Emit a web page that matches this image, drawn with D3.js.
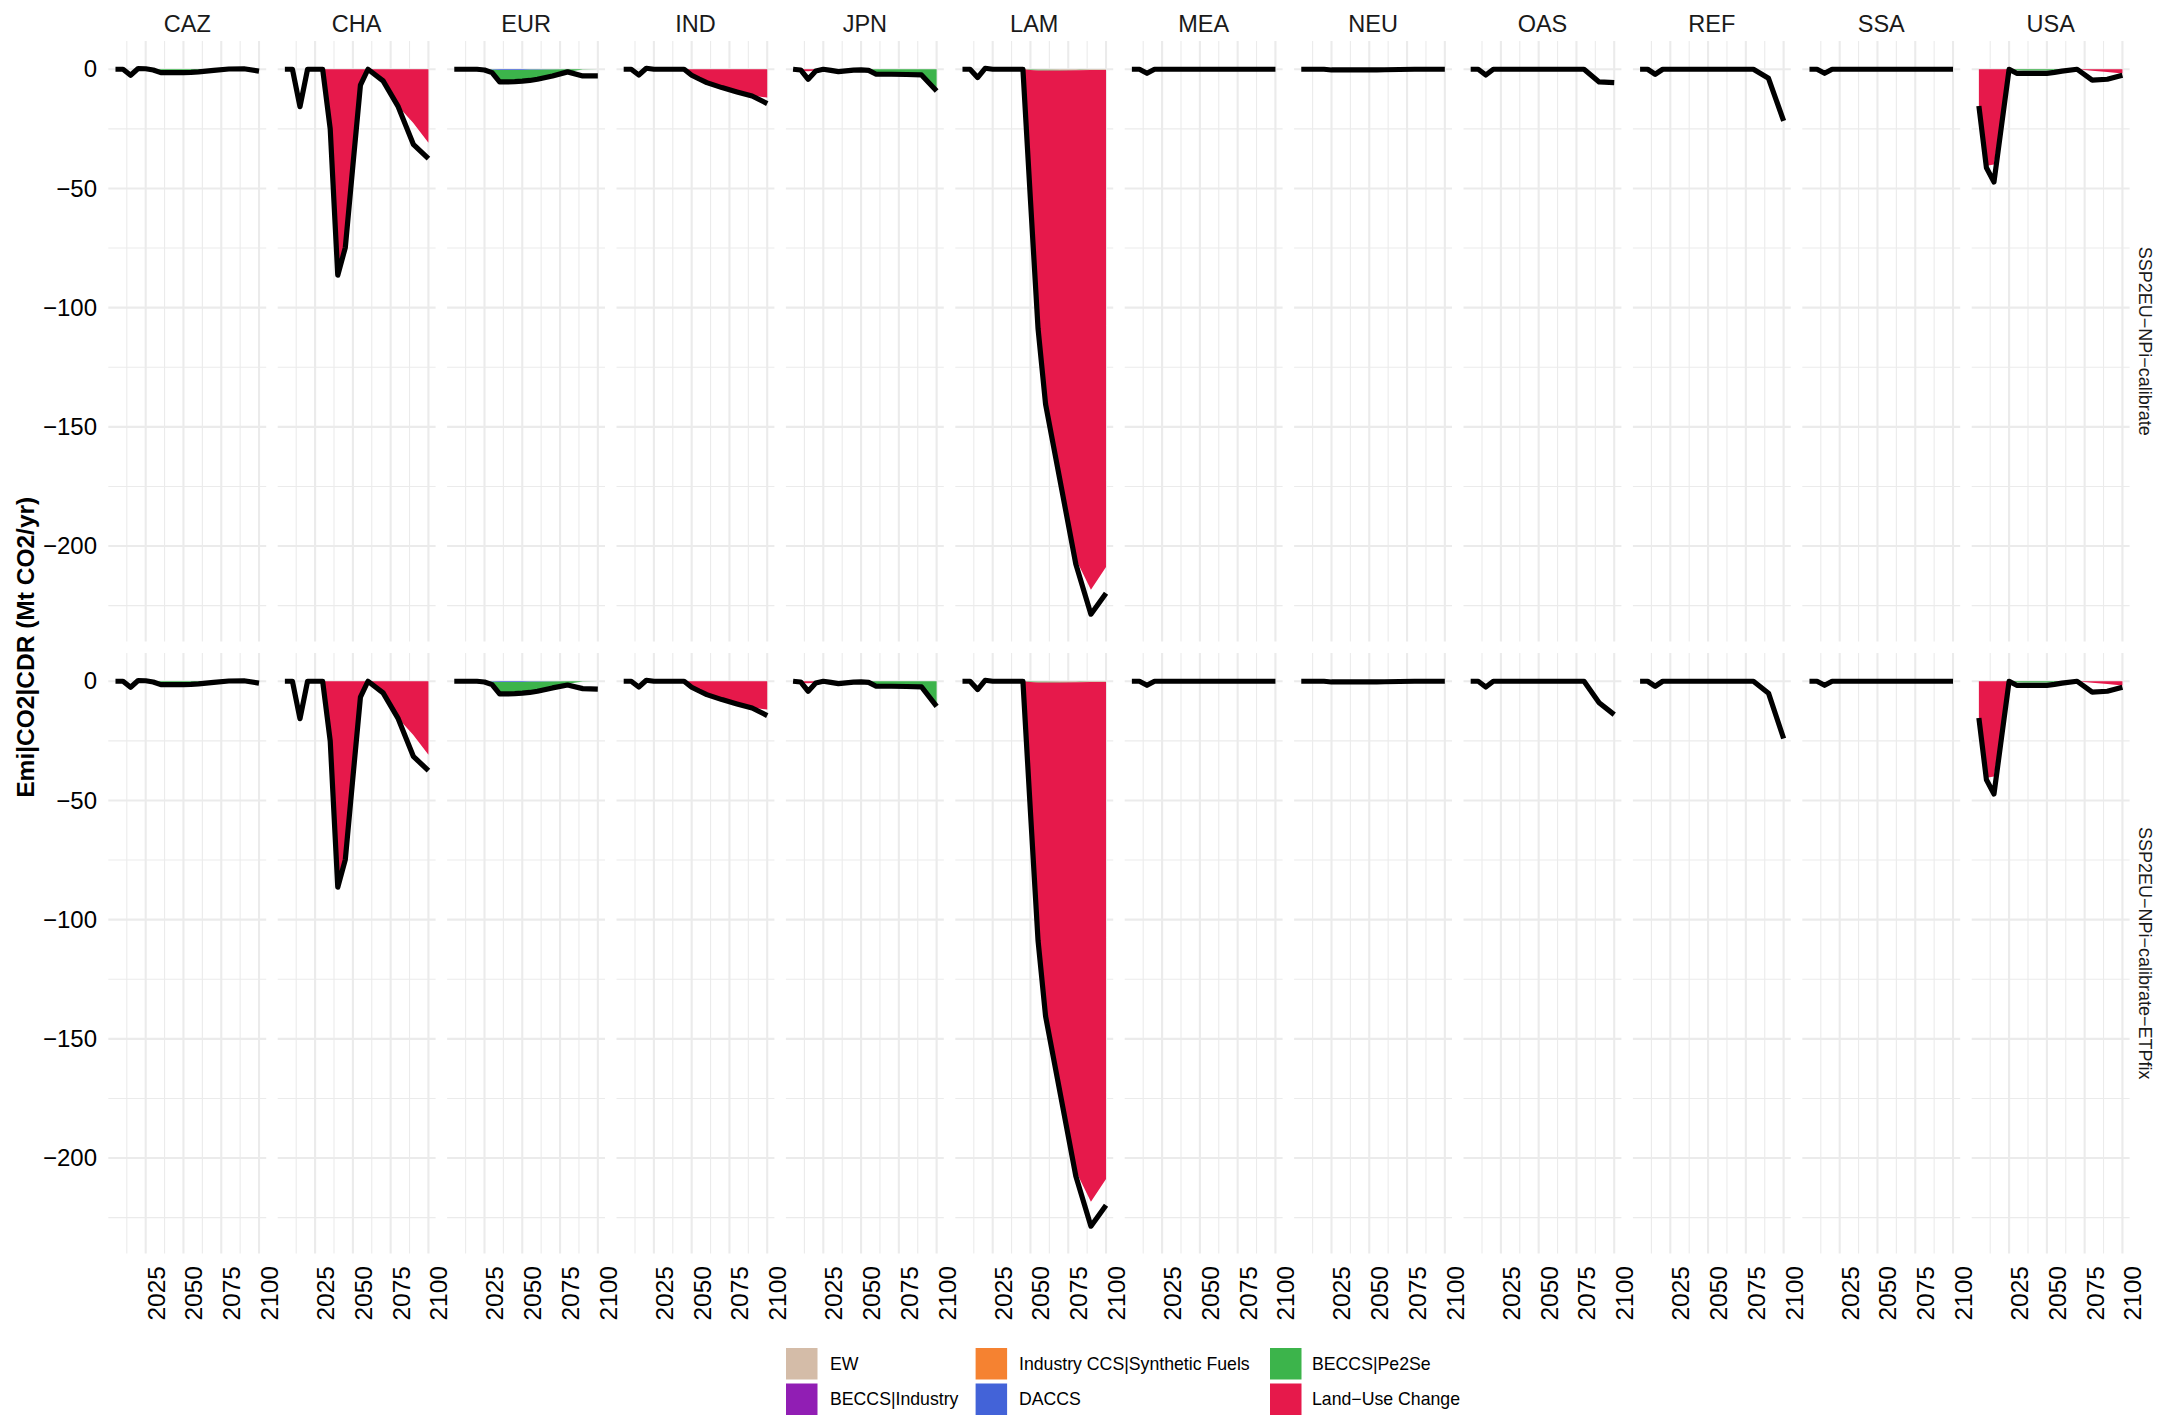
<!DOCTYPE html>
<html>
<head>
<meta charset="utf-8">
<script src="https://cdn.jsdelivr.net/npm/d3@7"></script>
<style>
  body { margin: 0; background: #fff; }
  text { font-family: "Liberation Sans", Arial, Helvetica, sans-serif; }
</style>
</head>
<body>
<script>
const WIDTH  = 2179;
const HEIGHT = 1423;
const PANEL_LEFT = 108.3;
const PANEL_W    = 157.9;
const PANEL_GAP  = 11.5;
const ROW_TOP    = 41;
const PANEL_H    = 600.5;
const ROW_GAP    = 11.5;

// ---- data ----
const years = [2005, 2010, 2015, 2020, 2025, 2030, 2035, 2040, 2045, 2050, 2055, 2060, 2070, 2080, 2090, 2100];
const regions = ["CAZ", "CHA", "EUR", "IND", "JPN", "LAM", "MEA", "NEU", "OAS", "REF", "SSA", "USA"];
const scenarios = ["SSP2EU\u2212NPi\u2212calibrate", "SSP2EU\u2212NPi\u2212calibrate\u2212ETPfix"];
const categories = ["EW", "BECCS|Industry", "Industry CCS|Synthetic Fuels", "DACCS", "BECCS|Pe2Se", "Land\u2212Use Change"];
const catColors  = ["#d4bca8", "#911eb4", "#f58231", "#4363d8", "#3cb44b", "#e6194b"];
const yTicks = [0, -50, -100, -150, -200];
const xTicks = [2025, 2050, 2075, 2100];

// total Emi|CO2|CDR (black line), scenario 1
const totalCAZ = [0, 0, -2.5, 0.3, 0.2, -0.3, -1.4, -1.4, -1.4, -1.4, -1.3, -1.1, -0.5, 0.1, 0.2, -0.8];
const totalCHA = [0, 0, -15.7, 0, 0, 0, -25, -86.4, -74.8, -40.5, -6.7, 0, -4.9, -15.7, -31.5, -37.5];
const totalEUR = [0, 0, 0, 0, -0.3, -1.4, -5.3, -5.3, -5.2, -5.0, -4.7, -4.2, -2.8, -1.1, -2.8, -2.8];
const totalIND = [0, 0, -2.4, 0.4, 0, 0, 0, 0, 0, -2.5, -4.1, -5.6, -7.7, -9.5, -11.2, -14.4];
const totalJPN = [0, -0.3, -4.2, -0.7, 0, -0.5, -1.0, -0.7, -0.4, -0.3, -0.5, -2.1, -2.1, -2.2, -2.4, -9.1];
const totalLAM = [0, 0, -3.5, 0.4, 0, 0, 0, 0, 0, -55, -108.7, -140.5, -174, -207.5, -228.6, -219.8];
const totalMEA = [0, 0, -1.7, 0, 0, 0, 0, 0, 0, 0, 0, 0, 0, 0, 0, 0];
const totalNEU = [0, 0, 0, 0, -0.3, -0.3, -0.3, -0.3, -0.3, -0.3, -0.3, -0.2, -0.1, 0, 0, 0];
const totalOAS = [0, 0, -2.4, 0, 0, 0, 0, 0, 0, 0, 0, 0, 0, 0, -5.3, -5.6];
const totalREF = [0, 0, -2.1, 0, 0, 0, 0, 0, 0, 0, 0, 0, 0, 0, -3.8, -21.7];
const totalSSA = [0, 0, -1.7, 0, 0, 0, 0, 0, 0, 0, 0, 0, 0, 0, 0, 0];
const totalUSA = [-15.4, -41.3, -47.3, -23.6, 0, -1.7, -1.7, -1.7, -1.7, -1.7, -1.3, -0.8, 0, -4.6, -4.2, -2.5];

// scenario 2 totals that differ from scenario 1
const totalEUR2 = [0, 0, 0, 0, -0.3, -1.4, -5.3, -5.3, -5.2, -5.0, -4.7, -4.2, -2.8, -1.6, -3.1, -3.3];
const totalJPN2 = [0, -0.3, -4.2, -0.7, 0, -0.5, -1.0, -0.7, -0.4, -0.3, -0.5, -2.1, -2.1, -2.2, -2.4, -10.5];
const totalOAS2 = [0, 0, -2.4, 0, 0, 0, 0, 0, 0, 0, 0, 0, 0, 0, -9, -14];
const totalREF2 = [0, 0, -2.1, 0, 0, 0, 0, 0, 0, 0, 0, 0, 0, 0, -5, -24];

// stacked CDR categories
const lucCHA = [0, 0, 0, 0, 0, 0, -24, -83, -73, -40, -6.5, 0, -4.8, -15.5, -22.5, -30.8];
const lucIND = [0, 0, 0, 0, 0, 0, 0, 0, 0, -2.3, -4, -5.5, -7.6, -9.4, -11, -11.9];
const lucJPN = [-0.3, -0.7, -0.8, -0.5, -0.2, 0, 0, 0, 0, 0, 0, 0, 0, 0, 0, 0];
const lucLAM = [0, 0, 0, 0, 0, 0, 0, 0, 0, -54, -107, -139, -172, -205, -218, -208.5];
const lucUSA = [-15.4, -40.5, -40, -20, 0, 0, 0, 0, 0, 0, 0, 0, 0, -0.6, -1.2, -1.8];
const pe2seCAZ = [0, 0, 0, 0, 0, -0.1, -0.4, -0.5, -0.5, -0.5, -0.5, -0.4, -0.3, -0.2, -0.1, 0];
const pe2seEUR = [0, 0, 0, 0, 0, -1.2, -4.9, -5, -4.9, -4.7, -4.4, -3.9, -2.6, -1, -0.1, 0];
const pe2seJPN = [0, 0, 0, 0, 0, 0, 0, 0, 0, 0, -0.4, -1.5, -1.8, -2, -2.2, -9.1];
const pe2seJPN2 = [0, 0, 0, 0, 0, 0, 0, 0, 0, 0, -0.4, -1.5, -1.8, -2, -2.2, -10.5];
const pe2seLAM = [0, 0, 0, 0, 0, 0, 0, 0, 0, -0.2, -0.3, -0.3, -0.2, -0.1, 0, 0];
const pe2seUSA = [0, 0, 0, 0, -0.2, -0.4, -0.5, -0.5, -0.5, -0.5, -0.4, -0.3, 0, 0, 0, 0];
const daccsEUR = [0, 0, 0, 0, 0, -0.2, -0.3, -0.3, -0.3, -0.3, -0.2, -0.2, -0.1, 0, 0, 0];
const ewLAM = [0, 0, 0, 0, 0, 0, 0, 0, 0, -0.1, -0.2, -0.2, -0.3, -0.3, -0.3, -0.3];

// ---- lookup table built from the arrays ----
const totals1 = { CAZ: totalCAZ, CHA: totalCHA, EUR: totalEUR, IND: totalIND, JPN: totalJPN, LAM: totalLAM,
                  MEA: totalMEA, NEU: totalNEU, OAS: totalOAS, REF: totalREF, SSA: totalSSA, USA: totalUSA };
const totals2 = Object.assign({}, totals1, { EUR: totalEUR2, JPN: totalJPN2, OAS: totalOAS2, REF: totalREF2 });

const cats1 = {
  CAZ: { "BECCS|Pe2Se": pe2seCAZ },
  CHA: { "Land\u2212Use Change": lucCHA },
  EUR: { "DACCS": daccsEUR, "BECCS|Pe2Se": pe2seEUR },
  IND: { "Land\u2212Use Change": lucIND },
  JPN: { "BECCS|Pe2Se": pe2seJPN, "Land\u2212Use Change": lucJPN },
  LAM: { "EW": ewLAM, "BECCS|Pe2Se": pe2seLAM, "Land\u2212Use Change": lucLAM },
  USA: { "BECCS|Pe2Se": pe2seUSA, "Land\u2212Use Change": lucUSA }
};
const cats2 = Object.assign({}, cats1, { JPN: { "BECCS|Pe2Se": pe2seJPN2, "Land\u2212Use Change": lucJPN } });

const totalsBy = [totals1, totals2];
const catsBy   = [cats1, cats2];

function stackRows(catSet) {
  return years.map((yr, k) => {
    const row = { year: yr };
    categories.forEach(c => { row[c] = (catSet && catSet[c]) ? catSet[c][k] : 0; });
    return row;
  });
}

// ---- scales ----
const stacker = d3.stack().keys(categories).offset(d3.stackOffsetDiverging);

let allVals = [];
totalsBy.forEach(t => regions.forEach(r => allVals = allVals.concat(t[r])));
catsBy.forEach(cs => regions.forEach(r => {
  stacker(stackRows(cs[r])).forEach(s => s.forEach(d => allVals.push(d[0], d[1])));
}));
const yMin = d3.min(allVals), yMax = d3.max(allVals);
const yPad = (yMax - yMin) * 0.05;
const xPad = (d3.max(years) - d3.min(years)) * 0.05;

const xScale = d3.scaleLinear().domain([d3.min(years) - xPad, d3.max(years) + xPad]).range([0, PANEL_W]);
const yScale = d3.scaleLinear().domain([yMin - yPad, yMax + yPad]).range([PANEL_H, 0]);

const GRID = "#ebebeb";
const xMinor = [2012.5, 2037.5, 2062.5, 2087.5];
const yMinor = [-25, -75, -125, -175, -225];

// ---- svg ----
const svg = d3.select("body").append("svg")
  .attr("width", WIDTH)
  .attr("height", HEIGHT);

const area = d3.area()
  .x(d => xScale(d.data.year))
  .y0(d => yScale(d[0]))
  .y1(d => yScale(d[1]));

const line = d3.line()
  .x((d, k) => xScale(years[k]))
  .y(d => yScale(d));

scenarios.forEach((scen, j) => {
  regions.forEach((reg, i) => {
    const px = PANEL_LEFT + i * (PANEL_W + PANEL_GAP);
    const py = ROW_TOP + j * (PANEL_H + ROW_GAP);
    const g = svg.append("g").attr("transform", `translate(${px},${py})`);

    // grid
    g.selectAll(".xminor").data(xMinor).enter().append("line")
      .attr("x1", d => xScale(d)).attr("x2", d => xScale(d))
      .attr("y1", 0).attr("y2", PANEL_H)
      .attr("stroke", GRID).attr("stroke-width", 1.1);
    g.selectAll(".yminor").data(yMinor).enter().append("line")
      .attr("x1", 0).attr("x2", PANEL_W)
      .attr("y1", d => yScale(d)).attr("y2", d => yScale(d))
      .attr("stroke", GRID).attr("stroke-width", 1.1);
    g.selectAll(".xmajor").data(xTicks).enter().append("line")
      .attr("x1", d => xScale(d)).attr("x2", d => xScale(d))
      .attr("y1", 0).attr("y2", PANEL_H)
      .attr("stroke", GRID).attr("stroke-width", 2.1);
    g.selectAll(".ymajor").data(yTicks).enter().append("line")
      .attr("x1", 0).attr("x2", PANEL_W)
      .attr("y1", d => yScale(d)).attr("y2", d => yScale(d))
      .attr("stroke", GRID).attr("stroke-width", 2.1);

    // stacked areas
    const series = stacker(stackRows(catsBy[j][reg]));
    g.selectAll(".area").data(series).enter().append("path")
      .attr("d", area)
      .attr("fill", (d, k) => catColors[k]);

    // total line
    g.append("path")
      .datum(totalsBy[j][reg])
      .attr("d", line)
      .attr("fill", "none")
      .attr("stroke", "#000")
      .attr("stroke-width", 5.2)
      .attr("stroke-linejoin", "round");

    // strip on top
    if (j === 0) {
      svg.append("text")
        .attr("x", px + PANEL_W / 2)
        .attr("y", 31.7)
        .attr("text-anchor", "middle")
        .style("font-size", "23.5px")
        .attr("fill", "#1a1a1a")
        .text(reg);
    }

    // y axis on first column
    if (i === 0) {
      const ya = g.append("g").call(d3.axisLeft(yScale).tickValues(yTicks).tickSize(0).tickPadding(11.3));
      ya.select(".domain").remove();
      ya.selectAll("text").style("font-size", "24px").attr("fill", "#000");
    }

    // x axis on bottom row
    if (j === scenarios.length - 1) {
      const xa = g.append("g")
        .attr("transform", `translate(0,${PANEL_H})`)
        .call(d3.axisBottom(xScale).tickValues(xTicks).tickSize(0).tickFormat(d3.format("d")));
      xa.select(".domain").remove();
      xa.selectAll("text")
        .style("font-size", "24.5px")
        .attr("fill", "#000")
        .attr("text-anchor", "end")
        .attr("transform", "rotate(-90)")
        .attr("x", -12.5)
        .attr("y", 18.5)
        .attr("dy", null);
    }
  });

  // right strip
  const midY = ROW_TOP + j * (PANEL_H + ROW_GAP) + PANEL_H / 2;
  svg.append("text")
    .attr("transform", `translate(2145,${midY}) rotate(90)`)
    .attr("text-anchor", "middle")
    .attr("dy", "0.35em")
    .style("font-size", "18px")
    .attr("fill", "#1a1a1a")
    .text(scen);
});

// y title
svg.append("text")
  .attr("transform", `translate(25,${ROW_TOP + PANEL_H + ROW_GAP / 2}) rotate(-90)`)
  .attr("text-anchor", "middle")
  .attr("dy", "0.35em")
  .style("font-size", "24.5px")
  .style("font-weight", "bold")
  .text("Emi|CO2|CDR (Mt CO2/yr)");

// legend (filled column by column, 2 rows)
const legendKeyX   = [786, 975.6, 1270];
const legendLabelX = [830, 1019, 1312];
const legendRowY   = [1348, 1383.5];
const KEY = 31.5;
const legend = svg.append("g");
categories.forEach((c, k) => {
  const col = Math.floor(k / 2), row = k % 2;
  legend.append("rect")
    .attr("x", legendKeyX[col]).attr("y", legendRowY[row])
    .attr("width", KEY).attr("height", KEY)
    .attr("fill", catColors[k]);
  legend.append("text")
    .attr("x", legendLabelX[col]).attr("y", legendRowY[row] + KEY / 2)
    .attr("dy", "0.35em")
    .style("font-size", "17.7px")
    .attr("fill", "#000")
    .text(c);
});
</script>
</body>
</html>
